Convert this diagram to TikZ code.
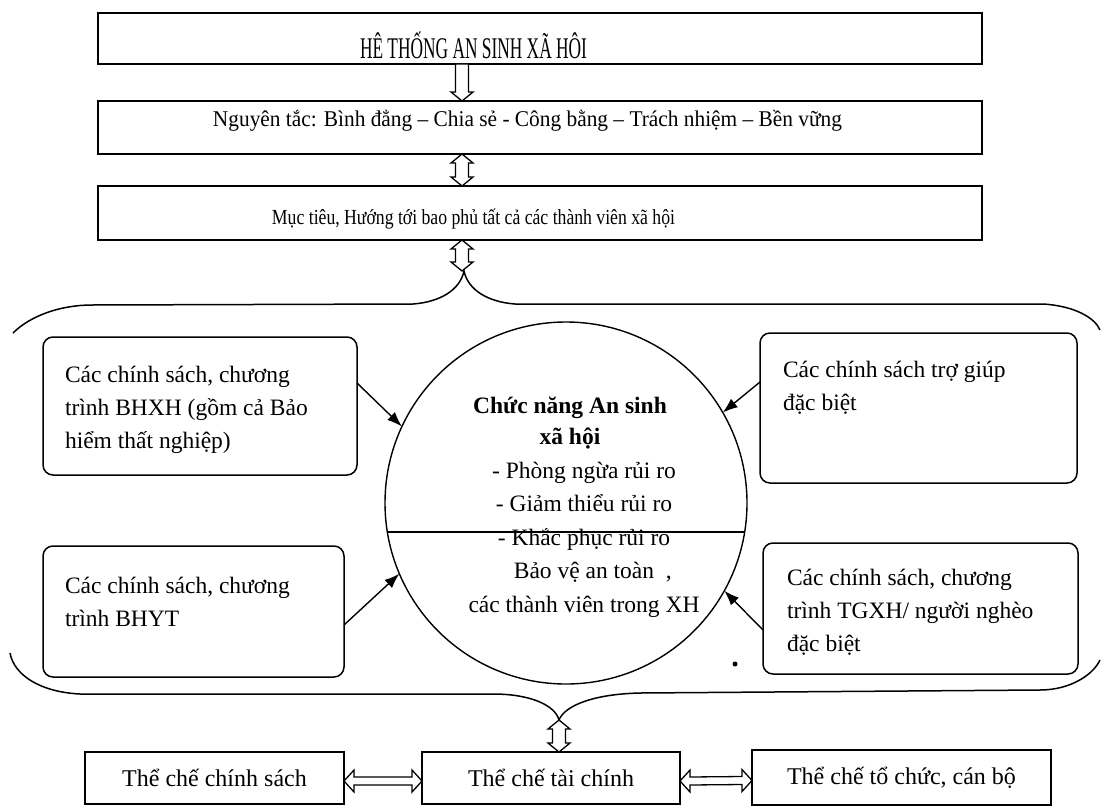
\documentclass[tikz,border=0pt]{standalone}
\usepackage{fontspec}
\setmainfont{Liberation Serif}
\usepackage{graphicx}
\usetikzlibrary{arrows.meta}
\newcommand\hfit[2]{\resizebox{#1}{\height}{#2}}
% hollow double-headed arrows between two named coordinates
\newcommand\vdbl[2]{\draw[holo] (#1) -- ++(11,9) -- ++(-4.5,0) -- ([shift={(6.5,-9)}]#2) -- ++(4.5,0) -- (#2) -- ++(-11,-9) -- ++(4.5,0) -- ([shift={(-6.5,9)}]#1) -- ++(-4.5,0) -- cycle;}
\newcommand\vone[2]{\draw[holo] ([shift={(-6.5,0)}]#1) -- ([shift={(6.5,0)}]#1) -- ([shift={(6.5,-9)}]#2) -- ++(4.5,0) -- (#2) -- ++(-11,-9) -- ++(4.5,0) -- cycle;}
\newcommand\hdbl[2]{\draw[holo] (#1) -- ++(10,-11) -- ++(0,7) -- ([shift={(-10,-4)}]#2) -- ++(0,-7) -- (#2) -- ++(-10,11) -- ++(0,-7) -- ([shift={(10,4)}]#1) -- ++(0,7) -- cycle;}
\begin{document}
\begin{tikzpicture}[x=1pt,y=-1pt,
  every node/.style={inner sep=0pt, outer sep=0pt},
  sbox/.style={draw, line width=1.5pt},
  rbox/.style={draw, line width=1.5pt, rounded corners=10pt},
  ptr/.style={line width=1.4pt, -{Latex[length=15pt,width=11pt]}},
  holo/.style={draw, fill=white, line width=1.3pt, line join=miter},
  brace/.style={line width=1.5pt},
  body/.style={font=\fontsize{23.5}{33}\selectfont},
]
\useasboundingbox (0,0) rectangle (1102,808);

% top boxes
\node[sbox, minimum width=884pt, minimum height=51pt] (B1) at (540,38.5) {};
\node[anchor=base] (T1) at (473.5,59) {\hfit{227pt}{\fontsize{30}{30}\selectfont HÊ THỐNG AN SINH XÃ HÔI}};
\node[sbox, minimum width=884pt, minimum height=53pt] (B2) at (540,127.5) {};
\node[anchor=base] (T2) at (527.5,126) {\hfit{629pt}{\fontsize{22.5}{22.5}\selectfont Nguyên tắc: Bình đẳng – Chia sẻ - Công bằng – Trách nhiệm – Bền vững}};
\node[sbox, minimum width=884pt, minimum height=54pt] (B3) at (540,213) {};
\node[anchor=base] (T3) at (473.5,224) {\hfit{403pt}{\fontsize{21.5}{21.5}\selectfont Mục tiêu, Hướng tới bao phủ tất cả các thành viên xã hội}};

\coordinate (ax) at (462,0);
\coordinate (t1) at (464,271);
\coordinate (t2) at (559,720);
\coordinate (a1s) at (B1.south -| ax);
\coordinate (a1e) at (B2.north -| ax);
\coordinate (a2s) at (B2.south -| ax);
\coordinate (a2e) at (B3.north -| ax);
\coordinate (a3s) at (B3.south -| ax);
\coordinate (a3e) at (t1 -| ax);

% braces
\draw[brace] (13,333) .. controls (30,316) and (60,305) .. (92,305)
  -- (413,304) .. controls (440,302) and (460,290) .. (t1)
  .. controls (468,290) and (488,302) .. (515,304)
  -- (1043,304) .. controls (1075,306) and (1095,318) .. (1100,330);
\draw[brace] (10,653) .. controls (14,675) and (40,692) .. (80,694)
  -- (493,694) .. controls (530,694) and (555,705) .. (t2)
  .. controls (565,705) and (595,694) .. (640,693)
  -- (1040,690) .. controls (1070,690) and (1093,675) .. (1100,660);

\vone{a1s}{a1e}
\vdbl{a2s}{a2e}
\vdbl{a3s}{a3e}

% circle
\node[draw, circle, line width=1.4pt, minimum size=362pt] (C) at (566,503) {};
\draw[line width=1.4pt] (387.3,532) -- (744.7,532);
\node[anchor=base] (H) at (570,413) {\parbox[t]{260pt}{\centering\bfseries\fontsize{23.5}{31}\selectfont Chức năng An sinh\\ xã hội}};
\node[anchor=base] (L) at (584,478) {\parbox[t]{320pt}{\centering\fontsize{23.5}{33.5}\selectfont - Phòng ngừa rủi ro\\ - Giảm thiểu rủi ro\\ - Khắc phục rủi ro\\ Bảo vệ an toàn\rlap{\ \ ,}\\ các thành viên trong XH}};

% side boxes
\node[rbox, minimum width=314pt, minimum height=138pt] (LT) at (200,406) {};
\node[anchor=base west, body] (LTt) at (65,382) {\parbox[t]{290pt}{\raggedright Các chính sách, chương\\ trình BHXH (gồm cả Bảo\\ hiểm thất nghiệp)}};
\node[rbox, minimum width=317pt, minimum height=150pt] (RT) at (918.5,408) {};
\node[anchor=base west, body] (RTt) at (783,377) {\parbox[t]{290pt}{\raggedright Các chính sách trợ giúp\\ đặc biệt}};
\node[rbox, minimum width=301pt, minimum height=131pt] (LB) at (193.5,611.5) {};
\node[anchor=base west, body] (LBt) at (65,593) {\parbox[t]{270pt}{\raggedright Các chính sách, chương\\ trình BHYT}};
\node[rbox, minimum width=315pt, minimum height=131pt] (RB) at (920.5,608.5) {};
\node[anchor=base west, body] (RBt) at (787,585) {\parbox[t]{285pt}{\raggedright Các chính sách, chương\\ trình TGXH/ người nghèo\\ đặc biệt}};

\draw[ptr] ([yshift=23pt]LT.east) -- (C.155);
\draw[ptr] ([yshift=26pt]RT.west) -- (C.30);
\draw[ptr] ([yshift=-13.5pt]LB.east) -- (C.203);
\draw[ptr] ([yshift=-21.5pt]RB.west) -- (C.331);

\fill (735,664) circle (2.5pt);

% bottom boxes
\node[sbox, minimum width=259pt, minimum height=52pt, font=\fontsize{24}{24}\selectfont] (BL) at (214.5,778) {Thể chế chính sách};
\node[sbox, minimum width=258pt, minimum height=52pt, font=\fontsize{24}{24}\selectfont] (BM) at (551,778) {Thể chế tài chính};
\node[sbox, minimum width=299pt, minimum height=55pt, font=\fontsize{24}{24}\selectfont] (BR) at (901.5,777.5) {Thể chế tổ chức, cán bộ};

\coordinate (a4e) at (BM.north -| t2);
\coordinate (h1s) at ([yshift=-3pt]BL.east);
\coordinate (h1e) at ([yshift=-3pt]BM.west);
\coordinate (h2s) at ([yshift=-3pt]BM.east);
\coordinate (h2e) at ([yshift=-3pt]BR.west -| BR.west);
\vdbl{t2}{a4e}
\hdbl{h1s}{h1e}
\hdbl{h2s}{h2e}
\end{tikzpicture}
\end{document}
